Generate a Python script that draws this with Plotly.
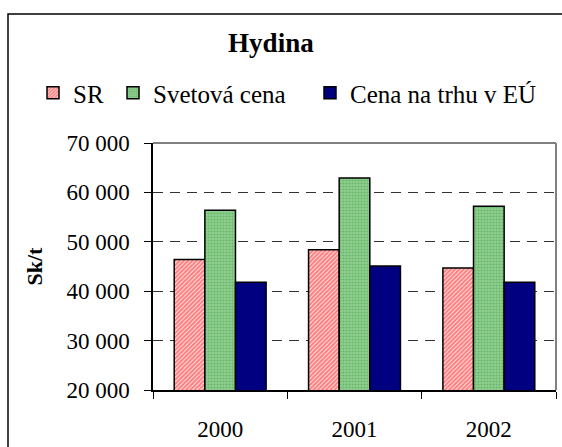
import plotly.graph_objects as go

years = ["2000", "2001", "2002"]
sr = [46400, 48400, 44700]
svetova = [56400, 62900, 57200]
eu = [41800, 45100, 41800]
series_names = ["SR", "Svetová cena", "Cena na trhu v EÚ"]
ytick_vals = [20000, 30000, 40000, 50000, 60000, 70000]
ytick_text = ["20 000", "30 000", "40 000", "50 000", "60 000", "70 000"]

FONT = "Liberation Serif"

fig = go.Figure()
fig.add_bar(
    name=series_names[0], x=years, y=sr, legend="legend",
    marker=dict(color="white",
                pattern=dict(shape="/", fgcolor="#ff0000", bgcolor="#ffffff", size=3, solidity=0.75, fillmode="overlay"),
                line=dict(color="black", width=1.5)),
)
fig.add_bar(
    name=series_names[1], x=years, y=svetova, legend="legend2",
    marker=dict(color="#88cb88",
                pattern=dict(shape=".", fgcolor="#449c44", bgcolor="#8fcf8f", size=3, solidity=0.4, fillmode="overlay"),
                line=dict(color="black", width=1.5)),
)
fig.add_bar(
    name=series_names[2], x=years, y=eu, legend="legend3",
    marker=dict(color="#000080", line=dict(color="black", width=1.5)),
)

L = 153.0   # plot-area left in px
W = 403.0   # plot-area width in px
legend_y = (390 - 93) / 247
leg_common = dict(orientation="h", xanchor="left", y=legend_y, yanchor="middle",
                  font=dict(family=FONT, size=25, color="black"), bgcolor="rgba(0,0,0,0)")

fig.update_layout(
    width=562, height=447,
    margin=dict(l=153, r=6, t=143, b=57),
    paper_bgcolor="white", plot_bgcolor="white",
    font=dict(family=FONT, size=23, color="black"),
    barmode="group", bargap=0.316, bargroupgap=0,
    title=dict(text="<b>Hydina</b>", x=0.482, xanchor="center", y=1 - 43 / 447, yanchor="middle",
               font=dict(family=FONT, size=27, color="black")),
    legend=dict(x=(33 - L) / W, **leg_common),
    legend2=dict(x=(113 - L) / W, **leg_common),
    legend3=dict(x=(310 - L) / W, **leg_common),
    showlegend=True,
)

fig.update_yaxes(
    range=[20000, 70000], tickvals=ytick_vals, ticktext=ytick_text,
    showline=True, linecolor="black", linewidth=1.5,
    ticks="outside", ticklen=7, tickcolor="black", tickwidth=1.2,
    showgrid=True, gridcolor="#333333", gridwidth=1, griddash="10px,7px",
    zeroline=False, ticklabelstandoff=10,
    title=dict(text="<b>Sk/t</b>", font=dict(family=FONT, size=22), standoff=18),
)
fig.update_xaxes(
    showline=True, linecolor="black", linewidth=1.5,
    ticks="outside", ticklen=7, tickcolor="black", tickwidth=1.2, tickson="boundaries",
    showgrid=False, ticklabelstandoff=18,
)

# plot-area border (top and right, grey) and chart border (black)
fig.add_shape(type="line", xref="paper", yref="paper", x0=0, x1=1, y0=1, y1=1,
              line=dict(color="#808080", width=2))
fig.add_shape(type="line", xref="paper", yref="paper", x0=1, x1=1, y0=0, y1=1,
              line=dict(color="#808080", width=2))
fig.add_shape(type="rect", xref="paper", yref="paper",
              x0=(8 - L) / W, x1=1.2, y0=-0.5, y1=(390 - 14) / 247,
              line=dict(color="black", width=1.5), layer="below")

fig.write_html("out.html", config={"displayModeBar": False},
               post_script="document.body.style.margin='0px';")
